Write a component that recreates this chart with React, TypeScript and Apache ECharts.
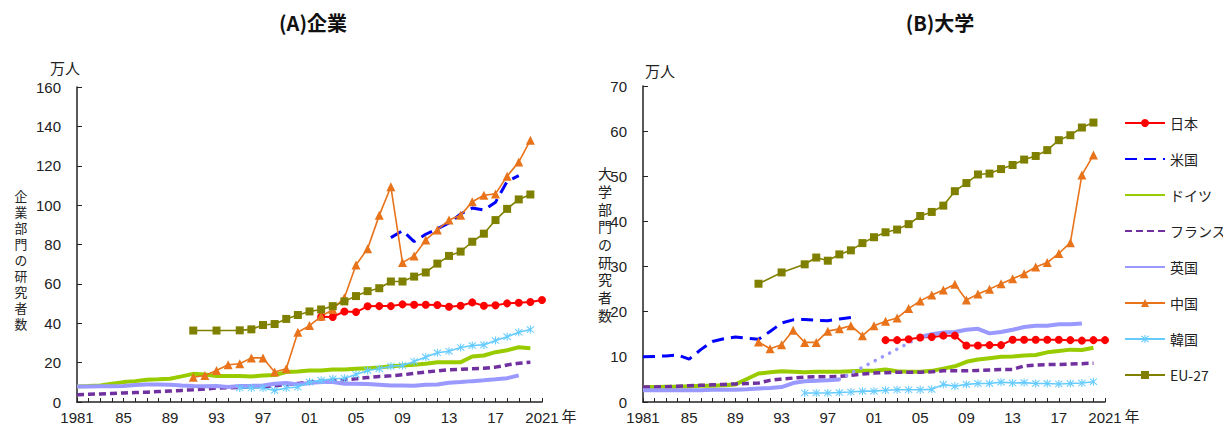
import React, { useEffect, useRef } from "react";
import * as echarts from "echarts";

// ---- categories ----
const FIRST_YEAR = 1981;
const LAST_YEAR = 2021;
const years: string[] = [];
for (let y = FIRST_YEAR; y <= LAST_YEAR; y++) years.push(String(y));

const seriesNames = ["日本", "米国", "ドイツ", "フランス", "英国", "中国", "韓国", "EU-27"];

// ---- (A) 企業 : [start year, values...] (万人) ----
const corpJapanStart = 2002;
const corpJapan = [43.3, 43.2, 46.0, 45.7, 48.6, 48.7, 48.7, 49.6, 49.4, 49.4, 49.3, 48.4, 48.9, 50.6, 48.9, 49.1, 50.1, 50.4, 50.8, 51.8];
const corpUSStart = 2008;
const corpUS = [83.5, 87.0, 81.5, 85.2, 88.0, 91.0, 95.5, 98.5, 97.5, 101.5, 112.0, 115.0];
const corpGermanyStart = 1981;
const corpGermany = [7.9, 8.1, 8.4, 9.3, 10.1, 10.6, 11.3, 11.5, 11.8, 13.0, 14.3, 14.0, 13.2, 13.2, 13.2, 13.0, 13.5, 13.7, 15.2, 15.5, 16.0, 16.0, 16.5, 16.5, 16.9, 17.2, 17.5, 18.2, 18.5, 18.9, 19.4, 20.2, 20.2, 20.2, 23.1, 23.6, 25.3, 26.3, 27.8, 27.3];
const corpFranceStart = 1981;
const corpFrance = [3.7, 3.9, 4.1, 4.3, 4.6, 4.8, 5.0, 5.3, 5.6, 5.9, 6.2, 6.6, 7.1, 7.2, 7.4, 7.6, 7.9, 8.3, 8.8, 9.4, 10.1, 10.6, 11.0, 11.3, 11.8, 12.4, 13.0, 13.3, 13.8, 14.5, 15.2, 15.8, 16.4, 16.6, 16.9, 17.1, 17.7, 18.8, 19.7, 20.2];
const corpUKStart = 1981;
const corpUK = [7.9, 7.9, 8.0, 8.0, 8.1, 8.6, 8.9, 8.9, 8.8, 8.4, 8.1, 8.0, 8.1, 7.6, 8.1, 8.2, 8.4, 9.3, 9.6, 8.9, 9.6, 10.1, 10.1, 9.3, 9.3, 9.1, 8.8, 8.4, 8.4, 8.3, 8.8, 8.9, 9.8, 10.1, 10.6, 11.0, 11.5, 12.1, 13.5];
const corpChinaStart = 1991;
const corpChina = [12.6, 13.5, 16.0, 18.9, 19.4, 22.4, 22.4, 15.2, 16.9, 35.4, 38.8, 43.5, 47.0, 53.0, 69.6, 77.9, 94.8, 109.3, 70.8, 74.2, 82.3, 87.4, 92.4, 94.8, 101.7, 105.0, 105.7, 114.7, 121.9, 133.0];
const corpKoreaStart = 1995;
const corpKorea = [7.1, 7.1, 7.1, 5.9, 7.1, 7.6, 10.1, 11.0, 11.8, 12.1, 14.0, 16.0, 16.9, 18.2, 18.5, 20.6, 22.8, 25.0, 25.8, 27.7, 28.7, 29.0, 31.2, 33.2, 35.4, 36.8];
const corpEUStart = 1991;
const corpEU = [36.3, null, 36.3, null, 36.4, 36.9, 39.1, 39.6, 42.2, 44.2, 46.0, 47.0, 48.7, 51.1, 53.8, 56.3, 57.8, 61.2, 61.2, 63.7, 65.8, 70.3, 74.2, 76.4, 81.4, 85.5, 92.4, 98.1, 102.9, 105.4];

// ---- (B) 大学 ----
const univJapanStart = 2002;
const univJapan = [13.7, 13.7, 13.9, 14.3, 14.4, 14.7, 14.7, 12.5, 12.5, 12.6, 12.6, 13.8, 13.8, 13.8, 13.8, 13.8, 13.7, 13.6, 13.7, 13.7];
const univUSStart = 1981;
const univUS = [10.0, 10.1, 10.2, 10.4, 9.5, 11.6, 13.4, 14.0, 14.4, 14.1, 13.9, 15.6, 17.5, 18.2, 18.3, 18.1, 18.0, 18.4, 18.7];
const univGermanyStart = 1981;
const univGermany = [3.3, 3.3, 3.4, 3.4, 3.5, 3.6, 3.6, 3.7, 3.9, 5.1, 6.3, 6.6, 6.8, 6.7, 6.6, 6.7, 6.7, 6.7, 6.8, 6.9, 6.9, 7.2, 6.8, 6.7, 6.7, 6.9, 7.4, 7.9, 8.9, 9.4, 9.7, 10.0, 10.1, 10.3, 10.4, 11.0, 11.3, 11.6, 11.5, 12.0];
const univFranceStart = 1981;
const univFrance = [3.3, 3.3, 3.4, 3.5, 3.6, 3.7, 3.8, 3.9, 4.0, 4.1, 4.2, 4.8, 5.1, 5.3, 5.5, 5.6, 5.6, 5.7, 5.9, 6.2, 6.4, 6.5, 6.6, 6.6, 6.6, 6.7, 6.9, 6.9, 6.9, 7.0, 7.1, 7.2, 7.2, 8.0, 8.2, 8.3, 8.3, 8.4, 8.5, 8.6];
const univUKStart = 1981;
const univUK = [2.6, 2.6, 2.6, 2.6, 2.6, 2.6, 2.7, 2.7, 2.7, 2.8, 3.0, 3.1, 3.3, 4.2, 4.6, 4.7, 4.8, 5.0, null, null, null, null, null, null, 14.4, 15.0, 15.4, 15.5, 16.0, 16.2, 15.2, 15.5, 16.0, 16.6, 16.9, 16.9, 17.2, 17.2, 17.4];
// break in the UK series (1998 → 2005), drawn dotted
const univUKBreakYears = [1998, 2005];
const univUKBreak = [5.0, 14.4];
const univChinaStart = 1991;
const univChina = [13.3, 11.8, 12.7, 15.9, 13.2, 13.2, 15.7, 16.2, 16.9, 14.7, 16.9, 17.9, 18.6, 20.7, 22.4, 23.7, 24.8, 26.1, 22.6, 23.9, 25.0, 26.2, 27.3, 28.4, 29.9, 30.9, 32.9, 35.3, 50.3, 54.7];
const univKoreaStart = 1995;
const univKorea = [2.0, 2.0, 2.0, 2.1, 2.2, 2.4, 2.4, 2.6, 2.7, 2.7, 2.7, 2.8, 3.9, 3.5, 3.9, 4.1, 4.1, 4.4, 4.2, 4.3, 4.1, 4.1, 4.0, 4.1, 4.2, 4.5];
const univEUStart = 1991;
const univEU = [26.2, null, 28.7, null, 30.5, 32.0, 31.3, 32.7, 33.6, 35.2, 36.5, 37.6, 38.2, 39.4, 41.2, 42.1, 43.5, 46.7, 48.5, 50.4, 50.6, 51.6, 52.5, 53.7, 54.5, 55.8, 58.0, 59.1, 60.8, 61.9];

function pad(start: number, vals: (number | null)[]): (number | null)[] {
  return years.map((y) => {
    const i = Number(y) - start;
    return i >= 0 && i < vals.length ? vals[i] : null;
  });
}
function padPairs(ys: number[], vals: number[]): (number | null)[] {
  return years.map((y) => {
    const i = ys.indexOf(Number(y));
    return i >= 0 ? vals[i] : null;
  });
}

const ASTERISK =
  "path://M4.4 0 L5.6 0 L5.6 10 L4.4 10 Z M1.42 0.58 L9.42 8.58 L8.58 9.42 L0.58 1.42 Z M8.58 0.58 L9.42 1.42 L1.42 9.42 L0.58 8.58 Z";

const NUM_FONT = "'Liberation Sans Narrow', 'Liberation Sans', Arial, sans-serif";
const JP_FONT = "'Noto Sans CJK JP', 'Noto Sans', sans-serif";

type Style = {
  color: string;
  width: number;
  type?: any;
  symbol?: string;
  symbolSize?: number;
  connectNulls?: boolean;
};
const styles: Record<string, Style> = {
  日本: { color: "#FF0000", width: 2, symbol: "circle", symbolSize: 8 },
  米国: { color: "#0000FF", width: 3, type: [12, 7] },
  ドイツ: { color: "#99CC00", width: 4 },
  フランス: { color: "#7030A0", width: 3.5, type: [7, 4] },
  英国: { color: "#9999FF", width: 4 },
  中国: { color: "#E8731A", width: 1.6, symbol: "triangle", symbolSize: 9 },
  韓国: { color: "#66CCFF", width: 1.6, symbol: ASTERISK, symbolSize: 8 },
  "EU-27": { color: "#808000", width: 1.6, symbol: "rect", symbolSize: 8, connectNulls: true },
};

function mk(name: string, data: (number | null)[], axis: number) {
  const s = styles[name];
  return {
    name,
    type: "line",
    xAxisIndex: axis,
    yAxisIndex: axis,
    data,
    connectNulls: !!s.connectNulls,
    symbol: s.symbol || "none",
    symbolSize: s.symbolSize || 0,
    showSymbol: !!s.symbol,
    showAllSymbol: true,
    itemStyle: { color: s.color },
    lineStyle: { color: s.color, width: s.width, type: s.type || "solid" },
    emphasis: { disabled: true },
  };
}

function xAxis(grid: number) {
  return {
    type: "category",
    gridIndex: grid,
    data: years,
    boundaryGap: false,
    axisLine: { lineStyle: { color: "#222", width: 1.5 } },
    axisTick: { show: true, inside: true, length: 4, interval: 0, lineStyle: { color: "#222" } },
    axisLabel: {
      interval: 3,
      margin: 8,
      color: "#222",
      fontSize: 15,
      fontFamily: NUM_FONT,
      formatter: (v: string, idx: number) => (idx === 0 || idx === years.length - 1 ? v : v.slice(2)),
    },
    splitLine: { show: false },
  };
}
function yAxis(grid: number, max: number, interval: number) {
  return {
    type: "value",
    gridIndex: grid,
    min: 0,
    max,
    interval,
    axisLine: { show: true, lineStyle: { color: "#222", width: 1.5 } },
    axisTick: { show: true, inside: true, length: 5, lineStyle: { color: "#222" } },
    axisLabel: { color: "#222", fontSize: 15, fontFamily: NUM_FONT, margin: 16 },
    splitLine: { show: false },
  };
}

function vertical(s: string) {
  return s.split("").join("\n");
}

export default function App() {
  const ref = useRef<HTMLDivElement>(null);
  useEffect(() => {
    if (!ref.current) return;
    const chart = echarts.init(ref.current, null, { renderer: "svg" });
    const series: any[] = [
      mk("日本", pad(corpJapanStart, corpJapan), 0),
      mk("米国", pad(corpUSStart, corpUS), 0),
      mk("ドイツ", pad(corpGermanyStart, corpGermany), 0),
      mk("フランス", pad(corpFranceStart, corpFrance), 0),
      mk("英国", pad(corpUKStart, corpUK), 0),
      mk("中国", pad(corpChinaStart, corpChina), 0),
      mk("韓国", pad(corpKoreaStart, corpKorea), 0),
      mk("EU-27", pad(corpEUStart, corpEU), 0),
      mk("日本", pad(univJapanStart, univJapan), 1),
      mk("米国", pad(univUSStart, univUS), 1),
      mk("ドイツ", pad(univGermanyStart, univGermany), 1),
      mk("フランス", pad(univFranceStart, univFrance), 1),
      mk("英国", pad(univUKStart, univUK), 1),
      {
        name: "英国(接続)",
        type: "line",
        xAxisIndex: 1,
        yAxisIndex: 1,
        data: padPairs(univUKBreakYears, univUKBreak),
        connectNulls: true,
        symbol: "none",
        showSymbol: false,
        lineStyle: { color: "#9999FF", width: 3.5, type: [0.1, 8], cap: "round" },
        emphasis: { disabled: true },
      },
      mk("中国", pad(univChinaStart, univChina), 1),
      mk("韓国", pad(univKoreaStart, univKorea), 1),
      mk("EU-27", pad(univEUStart, univEU), 1),
    ];
    const legendData = seriesNames.map((n) =>
      styles[n].symbol ? { name: n } : { name: n, itemStyle: { opacity: 0 } }
    );
    chart.setOption({
      animation: false,
      backgroundColor: "#ffffff",
      grid: [
        { left: 77, top: 87, width: 465, height: 316 },
        { left: 643, top: 86, width: 462, height: 316 },
      ],
      xAxis: [xAxis(0), xAxis(1)],
      yAxis: [yAxis(0, 160, 20), yAxis(1, 70, 10)],
      legend: {
        data: legendData,
        orient: "vertical",
        left: 1119,
        top: 111,
        itemWidth: 40,
        itemHeight: 10,
        itemGap: 22,
        textStyle: { fontSize: 14, fontFamily: JP_FONT, color: "#222" },
        selectedMode: false,
      },
      graphic: [
        { type: "text", x: 313, y: 22, style: { text: "(A)企業", font: `bold 20px ${JP_FONT}`, fill: "#111", align: "center", verticalAlign: "middle" } },
        { type: "text", x: 940, y: 22, style: { text: "(B)大学", font: `bold 20px ${JP_FONT}`, fill: "#111", align: "center", verticalAlign: "middle" } },
        { type: "text", x: 65, y: 67, style: { text: "万人", font: `15px ${JP_FONT}`, fill: "#222", align: "center", verticalAlign: "middle" } },
        { type: "text", x: 660, y: 70, style: { text: "万人", font: `15px ${JP_FONT}`, fill: "#222", align: "center", verticalAlign: "middle" } },
        { type: "text", x: 569, y: 415, style: { text: "年", font: `15px ${JP_FONT}`, fill: "#222", align: "center", verticalAlign: "middle" } },
        { type: "text", x: 1132, y: 415, style: { text: "年", font: `15px ${JP_FONT}`, fill: "#222", align: "center", verticalAlign: "middle" } },
        {
          type: "text",
          x: 21,
          y: 259,
          style: { text: vertical("企業部門の研究者数"), font: `12.8px ${JP_FONT}`, lineHeight: 16, fill: "#222", align: "center", verticalAlign: "middle" },
        },
        {
          type: "text",
          x: 605,
          y: 244,
          style: { text: vertical("大学部門の研究者数"), font: `14px ${JP_FONT}`, lineHeight: 17.7, fill: "#222", align: "center", verticalAlign: "middle" },
        },
      ],
      series,
    });
    return () => chart.dispose();
  }, []);
  return <div ref={ref} style={{ position: "absolute", left: 0, top: 0, width: 1223, height: 425 }} />;
}
